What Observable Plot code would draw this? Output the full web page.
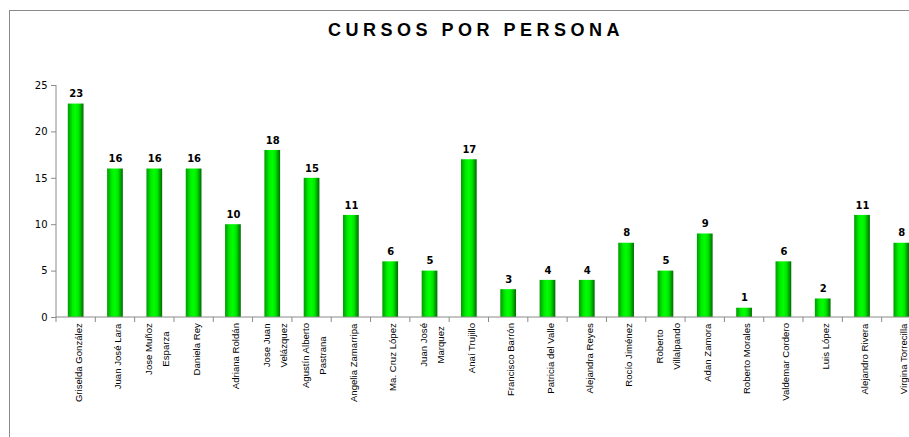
<!DOCTYPE html>
<html><head><meta charset="utf-8">
<script src="https://cdn.jsdelivr.net/npm/d3@7"></script>
<script src="https://cdn.jsdelivr.net/npm/@observablehq/plot@0.6"></script>
<style>
html,body{margin:0;padding:0;background:#fff;overflow:hidden;width:909px;height:437px;}
#frame{position:absolute;left:9px;top:10px;width:1000px;height:500px;border-left:1px solid #8a8a8a;border-top:1px solid #8a8a8a;}
#title{position:absolute;left:0;top:20px;width:952px;text-align:center;font:bold 18px "Liberation Sans",Arial,sans-serif;letter-spacing:4.5px;color:#000;}
#chart{position:absolute;left:0;top:0;width:930px;}
#chart svg{max-width:none !important;}
</style></head><body>
<div id="frame"></div>
<div id="title"></div>
<div id="chart"></div>
<script>
const titulo = "CURSOS POR PERSONA";
const personas = [
  "Griselda González", "Juan José Lara", "Jose Muñoz\nEsparza", "Daniela Rey",
  "Adriana Roldán", "Jose Juan\nVelázquez", "Agustín Alberto\nPastrana", "Angelia Zamarripa",
  "Ma. Cruz López", "Juan José\nMarquez", "Anaí Trujillo", "Francisco Barrón",
  "Patricia del Valle", "Alejandra Reyes", "Rocío Jiménez", "Roberto\nVillalpando",
  "Adan Zamora", "Roberto Morales", "Valdemar Cordero", "Luis López",
  "Alejandro Rivera", "Virgina Torrecilla"
];
const cursos = [23, 16, 16, 16, 10, 18, 15, 11, 6, 5, 17, 3, 4, 4, 8, 5, 9, 1, 6, 2, 11, 8];
const yTicks = [0, 5, 10, 15, 20, 25];

document.getElementById("title").textContent = titulo;
const data = personas.map((p, i) => ({persona: p, cursos: cursos[i]}));

const axisGray = "#8a8a8a";
const PAD_INNER = 0.6;
const LABEL_FILL = "#000001";

// axis lines + category boundary ticks, from the scales
function ejes(index, scales, values, dims) {
  const ns = "http://www.w3.org/2000/svg";
  const g = document.createElementNS(ns, "g");
  const x = scales.x, y = scales.y;
  const step = x(personas[1]) - x(personas[0]);
  const bw = step * (1 - PAD_INNER);
  const y0 = y(0), yTop = y(yTicks[yTicks.length - 1]);
  const line = (x1, y1, x2, y2) => {
    const l = document.createElementNS(ns, "line");
    l.setAttribute("x1", x1); l.setAttribute("y1", y1);
    l.setAttribute("x2", x2); l.setAttribute("y2", y2);
    l.setAttribute("stroke", axisGray); l.setAttribute("stroke-width", 1);
    g.appendChild(l);
  };
  const left = x(personas[0]) - (step - bw) / 2;
  line(left, yTop, left, y0);
  line(left, y0, dims.width, y0);
  personas.forEach((p) => {
    const b = x(p) - (step - bw) / 2;
    line(b, y0, b, y0 + 5);
  });
  return g;
}

const svg = Plot.plot({
  width: 930,
  height: 437,
  marginLeft: 56,
  marginRight: 9,
  marginTop: 85,
  marginBottom: 120,
  style: {fontFamily: "DejaVu Sans, Verdana, sans-serif", fontSize: "10px", color: "#000", background: "transparent", maxWidth: "none"},
  x: {domain: personas, paddingInner: PAD_INNER, paddingOuter: 0.3, round: false, axis: null},
  y: {domain: [0, 25], ticks: yTicks, tickSize: 5, tickPadding: 4, label: null},
  marks: [
    Plot.barY(data, {x: "persona", y: "cursos", fill: "url(#barGrad)"}),
    ejes,
    Plot.text(data, {x: "persona", y: "cursos", text: d => String(d.cursos), dy: -10,
      fontWeight: "bold", fontSize: 10, fontFamily: "DejaVu Sans, Verdana, sans-serif", fill: "#000"}),
    Plot.text(data, {x: "persona", text: "persona", frameAnchor: "bottom", rotate: -90,
      textAnchor: "middle", lineAnchor: "middle", lineHeight: 1.8, fontSize: 9.6,
      fontFamily: "Liberation Sans, Arial, sans-serif", fill: LABEL_FILL})
  ]
});
svg.style.maxWidth = "none";

// gradient for cylinder-like bars
const ns = "http://www.w3.org/2000/svg";
const defs = document.createElementNS(ns, "defs");
const grad = document.createElementNS(ns, "linearGradient");
grad.setAttribute("id", "barGrad");
grad.setAttribute("x1", "0"); grad.setAttribute("x2", "1");
grad.setAttribute("y1", "0"); grad.setAttribute("y2", "0");
[["0", "#009a00"], ["0.3", "#00ee00"], ["0.5", "#00ff00"], ["0.7", "#00e600"], ["1", "#006a00"]].forEach(([o, c]) => {
  const s = document.createElementNS(ns, "stop");
  s.setAttribute("offset", o); s.setAttribute("stop-color", c);
  grad.appendChild(s);
});
defs.appendChild(grad);
svg.insertBefore(defs, svg.firstChild);

// y axis tick colour
svg.querySelectorAll('g[aria-label="y-axis tick"] path, g[aria-label="y-axis"] line, g[aria-label="y-axis"] path').forEach(p => p.setAttribute("stroke", axisGray));

document.getElementById("chart").appendChild(svg);

// top-align the rotated category labels just under the axis
const yScale = svg.scale("y");
const topY = yScale.apply(0) + 6;
const svgTop = svg.getBoundingClientRect().top;
svg.querySelectorAll("text").forEach(t => {
  const f = t.getAttribute("fill") || (t.parentNode && t.parentNode.getAttribute("fill"));
  if (f !== LABEL_FILL) return;
  const r = t.getBoundingClientRect();
  const shift = topY - (r.top - svgTop);
  t.setAttribute("transform", `translate(0,${shift}) ` + (t.getAttribute("transform") || ""));
  t.setAttribute("fill", "#000");
});
</script>
</body></html>
